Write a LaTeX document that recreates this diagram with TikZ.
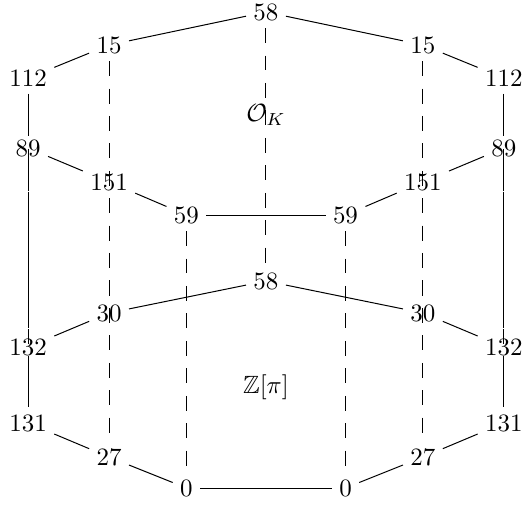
\documentclass[tikz,border=0pt]{standalone}
\usepackage{tikz}
\usepackage{amsmath,amssymb}

\begin{document}
\begin{tikzpicture}[
  n/.style={inner sep=2.8pt},
  l/.style={line width=0.4pt},
  d/.style={line width=0.4pt, dash pattern=on 6pt off 5pt}
]
  \useasboundingbox (-3.746,0) rectangle (3.634,-7.113);
  % top layer
  \node[n] (t58)  at (0, -0.169)     {58};
  \node[n] (t15l) at (-2.21, -0.634) {15};
  \node[n] (t15r) at (2.21, -0.634)  {15};
  \node[n] (t112l) at (-3.35, -1.099) {112};
  \node[n] (t112r) at (3.35, -1.099)  {112};
  \node[n] (t89l) at (-3.35, -2.085) {89};
  \node[n] (t89r) at (3.35, -2.085)  {89};
  \node[n] (t151l) at (-2.21, -2.563) {151};
  \node[n] (t151r) at (2.21, -2.563)  {151};
  \node[n] (t59l) at (-1.12, -3.028) {59};
  \node[n] (t59r) at (1.12, -3.028)  {59};
  \node[n] (ok) at (0, -1.62) {$\mathcal{O}_K$};
  % bottom layer
  \node[n] (b58)  at (0, -3.958)     {58};
  \node[n] (b30l) at (-2.21, -4.408) {30};
  \node[n] (b30r) at (2.21, -4.408)  {30};
  \node[n] (b132l) at (-3.35, -4.887) {132};
  \node[n] (b132r) at (3.35, -4.887)  {132};
  \node[n] (b131l) at (-3.35, -5.958) {131};
  \node[n] (b131r) at (3.35, -5.958)  {131};
  \node[n] (b27l) at (-2.21, -6.437) {27};
  \node[n] (b27r) at (2.21, -6.437)  {27};
  \node[n] (b0l) at (-1.12, -6.873) {0};
  \node[n] (b0r) at (1.12, -6.873)  {0};
  \node[n] (zp) at (0, -5.451) {$\mathbb{Z}[\pi]$};
  % top edges
  \draw[l] (t58)--(t15l); \draw[l] (t58)--(t15r);
  \draw[l] (t15l)--(t112l); \draw[l] (t15r)--(t112r);
  \draw[l] (t112l)--(t89l); \draw[l] (t112r)--(t89r);
  \draw[l] (t89l)--(t151l); \draw[l] (t89r)--(t151r);
  \draw[l] (t151l)--(t59l); \draw[l] (t151r)--(t59r);
  \draw[l] (t59l)--(t59r);
  % bottom edges
  \draw[l] (b58)--(b30l); \draw[l] (b58)--(b30r);
  \draw[l] (b30l)--(b132l); \draw[l] (b30r)--(b132r);
  \draw[l] (b132l)--(b131l); \draw[l] (b132r)--(b131r);
  \draw[l] (b131l)--(b27l); \draw[l] (b131r)--(b27r);
  \draw[l] (b27l)--(b0l); \draw[l] (b27r)--(b0r);
  \draw[l] (b0l)--(b0r);
  % inclusions
  \draw[d] (t58)--(b58);
  \draw[d] (t15l)--(b30l); \draw[d] (t15r)--(b30r);
  \draw[d] (t112l)--(b132l); \draw[d] (t112r)--(b132r);
  \draw[d] (t89l)--(b131l); \draw[d] (t89r)--(b131r);
  \draw[d] (t151l)--(b27l); \draw[d] (t151r)--(b27r);
  \draw[d] (t59l)--(b0l); \draw[d] (t59r)--(b0r);
\end{tikzpicture}
\end{document}
